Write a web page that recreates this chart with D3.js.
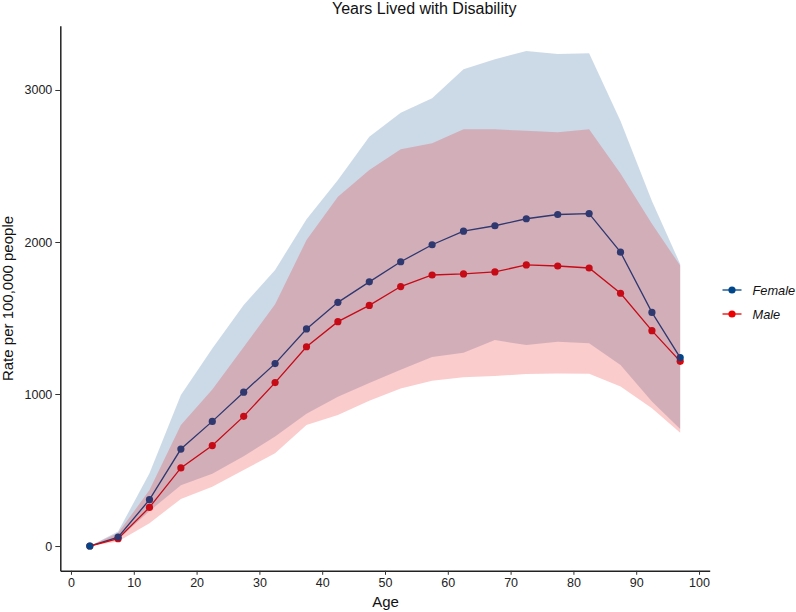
<!DOCTYPE html>
<html>
<head>
<meta charset="utf-8">
<script src="https://cdn.jsdelivr.net/npm/d3@7"></script>
<style>
  body { margin: 0; background: #fff; }
  text { font-family: "Liberation Sans", Arial, Helvetica, sans-serif; }
</style>
</head>
<body>
<svg id="chart" width="796" height="612"></svg>
<script>
// ---- data ----
const ages = [3, 7.5, 12.5, 17.5, 22.5, 27.5, 32.5, 37.5, 42.5, 47.5, 52.5, 57.5, 62.5, 67.5, 72.5, 77.5, 82.5, 87.5, 92.5, 97];
const femaleRate  = [0, 58, 305, 638, 820, 1012, 1200, 1428, 1603, 1738, 1870, 1982, 2071, 2107, 2153, 2181, 2187, 1933, 1537, 1239];
const femaleLower = [0, 45, 230, 400, 475, 590, 720, 870, 982, 1072, 1159, 1243, 1272, 1355, 1322, 1344, 1334, 1191, 950, 770];
const femaleUpper = [0, 95, 478, 993, 1300, 1586, 1816, 2150, 2408, 2693, 2850, 2945, 3136, 3202, 3257, 3237, 3241, 2796, 2270, 1855];
const maleRate  = [0, 48, 254, 514, 661, 853, 1075, 1311, 1476, 1583, 1707, 1783, 1790, 1803, 1849, 1842, 1829, 1663, 1417, 1215];
const maleLower = [0, 30, 150, 310, 390, 500, 610, 796, 862, 955, 1036, 1088, 1110, 1118, 1132, 1135, 1133, 1050, 906, 745];
const maleUpper = [0, 85, 368, 796, 1030, 1310, 1590, 2013, 2298, 2474, 2610, 2649, 2741, 2741, 2732, 2722, 2741, 2450, 2120, 1845];
const xTicks = [0, 10, 20, 30, 40, 50, 60, 70, 80, 90, 100];
const yTicks = [0, 1000, 2000, 3000];
const seriesNames = ["Female", "Male"];
const seriesColors = ["#00468B", "#ED0000"];

// ---- layout ----
const svg = d3.select("#chart");
const x = d3.scaleLinear().domain([-1.7, 101.7]).range([60.3, 709.7]);
const y = d3.scaleLinear().domain([-163, 3423]).range([570.8, 25.7]);

const series = [
  { name: seriesNames[0], color: seriesColors[0], rate: femaleRate, lo: femaleLower, hi: femaleUpper },
  { name: seriesNames[1], color: seriesColors[1], rate: maleRate, lo: maleLower, hi: maleUpper }
];

const line = d3.line().x(d => x(d[0])).y(d => y(d[1]));
const area = d3.area().x(d => x(d[0])).y0(d => y(d[1])).y1(d => y(d[2]));

// lines (drawn under ribbons)
series.forEach(s => {
  svg.append("path")
    .datum(ages.map((a, i) => [a, s.rate[i]]))
    .attr("d", line)
    .attr("fill", "none")
    .attr("stroke", s.color)
    .attr("stroke-width", 1.3);
});
// points: male first, female on top
[series[1], series[0]].forEach(s => {
  svg.append("g").selectAll("circle")
    .data(ages.map((a, i) => [a, s.rate[i]]))
    .join("circle")
    .attr("cx", d => x(d[0]))
    .attr("cy", d => y(d[1]))
    .attr("r", 3.6)
    .attr("fill", s.color);
});
// ribbons on top, semi transparent
series.forEach(s => {
  svg.append("path")
    .datum(ages.map((a, i) => [a, s.lo[i], s.hi[i]]))
    .attr("d", area)
    .attr("fill", s.color)
    .attr("fill-opacity", 0.2)
    .attr("stroke", "none");
});

// axes
const xAxis = svg.append("g")
  .attr("transform", `translate(0,${y.range()[0]})`)
  .call(d3.axisBottom(x).tickValues(xTicks).tickFormat(d3.format("d")).tickSize(4).tickSizeOuter(0).tickPadding(3));
const yAxis = svg.append("g")
  .attr("transform", `translate(${x.range()[0]},0)`)
  .call(d3.axisLeft(y).tickValues(yTicks).tickFormat(d3.format("d")).tickSize(5).tickSizeOuter(0).tickPadding(3));
[xAxis, yAxis].forEach(g => {
  g.select(".domain").attr("stroke", "#222").attr("stroke-width", 1.5);
  g.selectAll(".tick line").attr("stroke", "#333").attr("stroke-width", 1);
  g.selectAll(".tick text").attr("fill", "#222").style("font-size", "12.5px")
    .style("font-family", '"Liberation Sans", Arial, sans-serif');
});

// titles
svg.append("text")
  .attr("x", 332).attr("y", 14)
  .attr("text-anchor", "start")
  .style("font-size", "16px").attr("fill", "#111")
  .text("Years Lived with Disability");
svg.append("text")
  .attr("x", 385.5).attr("y", 606.5)
  .attr("text-anchor", "middle")
  .style("font-size", "15px").attr("fill", "#111")
  .text("Age");
svg.append("text")
  .attr("transform", "translate(13,298.5) rotate(-90)")
  .attr("text-anchor", "middle")
  .style("font-size", "15px").attr("fill", "#111")
  .text("Rate per 100,000 people");

// legend
const legend = svg.append("g");
series.forEach((s, i) => {
  const ly = 290 + i * 24;
  legend.append("line")
    .attr("x1", 722.5).attr("x2", 741.5).attr("y1", ly).attr("y2", ly)
    .attr("stroke", s.color).attr("stroke-width", 1.3);
  legend.append("circle")
    .attr("cx", 732).attr("cy", ly).attr("r", 3.6).attr("fill", s.color);
  legend.append("text")
    .attr("x", 752.5).attr("y", ly + 4.5)
    .style("font-size", "12.8px").style("font-style", "italic").attr("fill", "#111")
    .text(s.name);
});
</script>
</body>
</html>
